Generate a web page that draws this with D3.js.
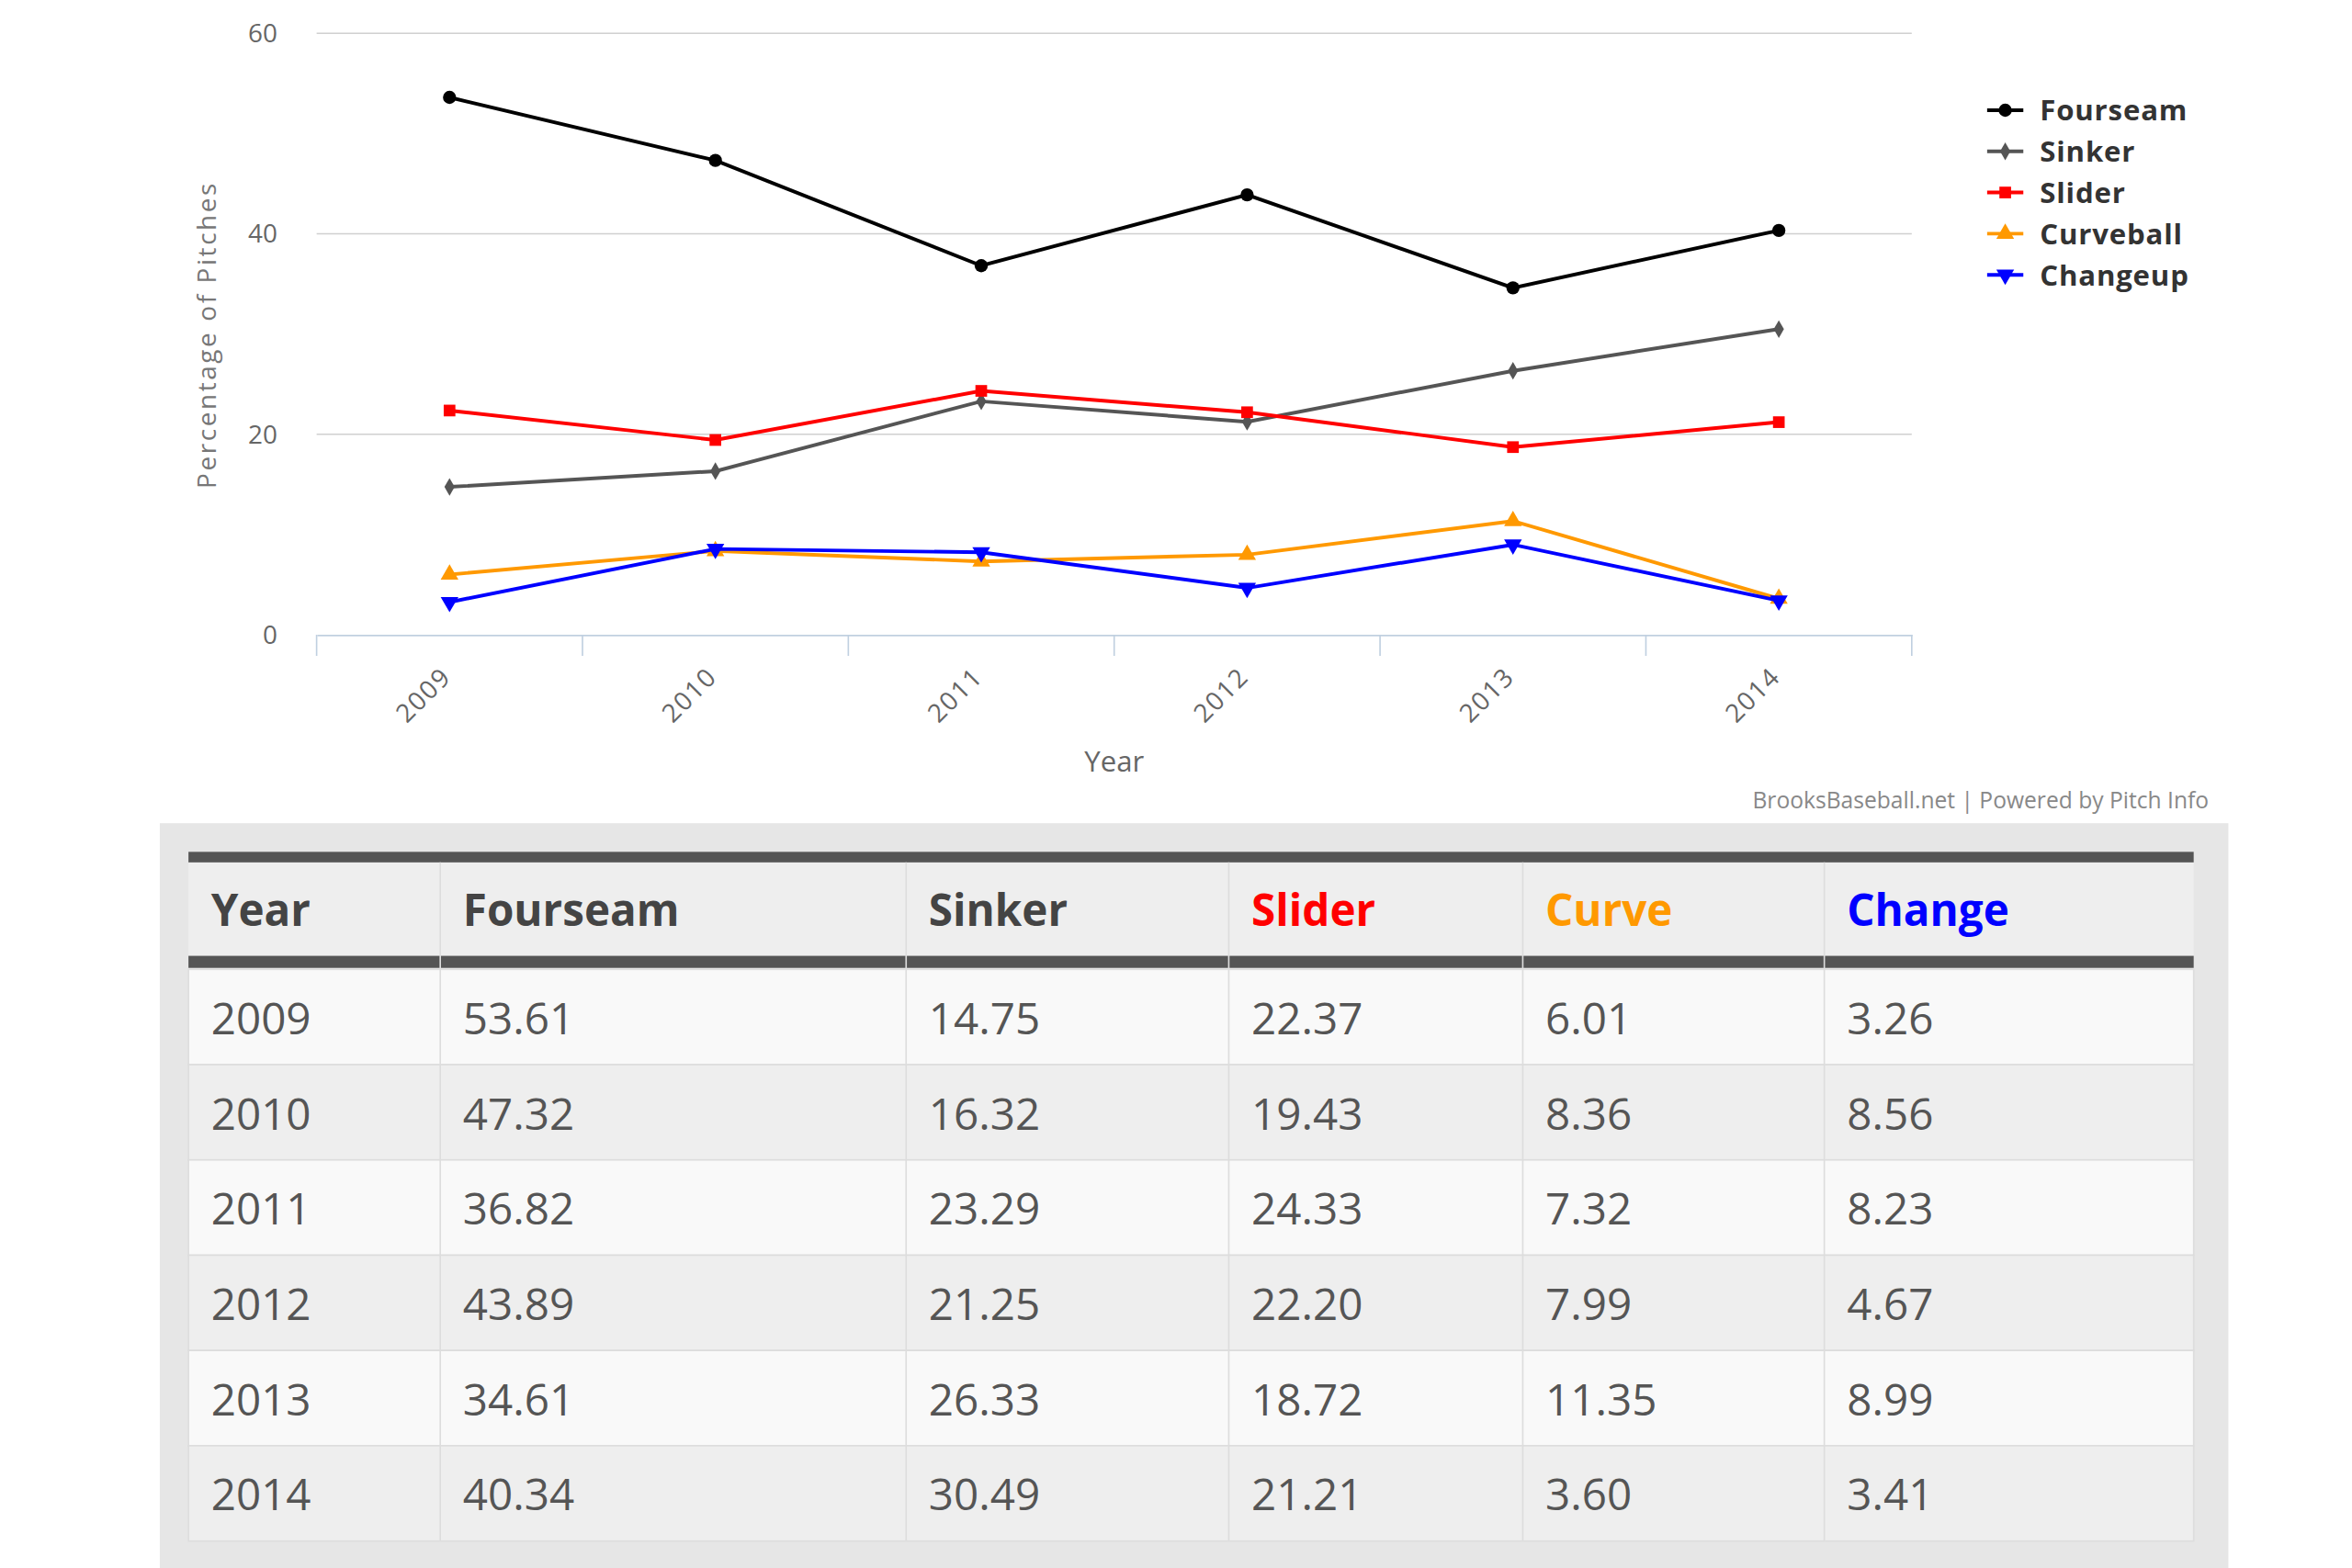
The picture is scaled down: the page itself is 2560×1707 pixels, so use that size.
<!DOCTYPE html>
<html><head><meta charset="utf-8">
<script src="https://cdn.jsdelivr.net/npm/d3@7"></script>
<style>body{margin:0;background:#fff}svg{display:block}</style>
</head><body>
<svg id="chart" width="2560" height="1707" viewBox="0 0 1560 1040"></svg>
<script>
const years = ['2009', '2010', '2011', '2012', '2013', '2014'];
const fourseam = [53.61, 47.32, 36.82, 43.89, 34.61, 40.34];
const sinker = [14.75, 16.32, 23.29, 21.25, 26.33, 30.49];
const slider = [22.37, 19.43, 24.33, 22.20, 18.72, 21.21];
const curveball = [6.01, 8.36, 7.32, 7.99, 11.35, 3.60];
const changeup = [3.26, 8.56, 8.23, 4.67, 8.99, 3.41];
const yTicks = [0, 20, 40, 60];

const series = [
  {name: 'Fourseam', head: 'Fourseam', values: fourseam, color: '#000', sym: d3.symbolCircle, headColor: '#444'},
  {name: 'Sinker', head: 'Sinker', values: sinker, color: '#555', sym: d3.symbolDiamond, headColor: '#444'},
  {name: 'Slider', head: 'Slider', values: slider, color: '#f00', sym: d3.symbolSquare, headColor: '#f00'},
  {name: 'Curveball', head: 'Curve', values: curveball, color: '#f90', sym: d3.symbolTriangle, headColor: '#f90'},
  {name: 'Changeup', head: 'Change', values: changeup, color: '#00f', sym: d3.symbolTriangle, down: true, headColor: '#00f'}
];

const svg = d3.select('#chart');
const font = "'Open Sans', sans-serif";

let x = d3.scaleBand().domain(years).range([210, 1268]);
let y = d3.scaleLinear().domain([0, 60]).range([421, 22]);
const symSize = s => s.sym === d3.symbolDiamond ? 40 : 60;

// grid
svg.append('g').selectAll('line').data(yTicks.slice(1)).enter().append('line')
  .attr('x1', 210).attr('x2', 1268).attr('y1', d => y(d)).attr('y2', d => y(d))
  .attr('stroke', '#d0d0d0').attr('stroke-width', 1);

svg.append('g').selectAll('text').data(yTicks).enter().append('text')
  .attr('x', 184).attr('y', d => y(d) + 6).attr('text-anchor', 'end')
  .style('font-family', font).style('font-size', '17px').style('fill', '#666')
  .text(d => d);

// x axis
let xAxis = d3.axisBottom(x).tickSize(0).tickFormat('');
let xg = svg.append('g').attr('transform', 'translate(0,421)').call(xAxis);
xg.select('.domain').attr('stroke', '#c0d0e0');
let edges = years.map(d => x(d)).concat([1268]);
xg.selectAll('.edge').data(edges).enter().append('line')
  .attr('x1', d => d).attr('x2', d => d).attr('y1', 0).attr('y2', 14)
  .attr('stroke', '#c0d0e0');
svg.append('g').selectAll('text').data(years).enter().append('text')
  .attr('transform', d => `translate(${x(d) + x.bandwidth() / 2 + 2},450) rotate(-45)`)
  .attr('text-anchor', 'end')
  .style('font-family', font).style('font-size', '17px').style('fill', '#666')
  .style('letter-spacing', '1px')
  .text(d => d);

svg.append('text').attr('x', 739).attr('y', 512).attr('text-anchor', 'middle')
  .style('font-family', font).style('font-size', '19px').style('fill', '#666').text('Year');
svg.append('text').attr('transform', 'translate(143,222) rotate(-90)').attr('text-anchor', 'middle')
  .style('font-family', font).style('font-size', '17px').style('fill', '#777')
  .style('letter-spacing', '1.6px').text('Percentage of Pitches');

// lines
let line = d3.line().x((d, i) => x(years[i]) + x.bandwidth() / 2).y(d => y(d));
series.forEach(s => {
  svg.append('path').datum(s.values).attr('d', line)
    .attr('fill', 'none').attr('stroke', s.color).attr('stroke-width', 2.4);
  svg.append('g').selectAll('path').data(s.values).enter().append('path')
    .attr('d', d3.symbol().type(s.sym).size(symSize(s)))
    .attr('transform', (d, i) => `translate(${x(years[i]) + x.bandwidth() / 2},${y(d)})${s.down ? ' rotate(180)' : ''}`)
    .attr('fill', s.color);
});

// legend
let legend = svg.append('g').selectAll('g').data(series).enter().append('g')
  .attr('transform', (d, i) => `translate(1318,${73 + i * 27.3})`);
legend.append('line').attr('x1', 0).attr('x2', 24).attr('stroke', d => d.color).attr('stroke-width', 2.4);
legend.append('path').attr('d', d => d3.symbol().type(d.sym).size(symSize(d))())
  .attr('transform', d => `translate(12,0)${d.down ? ' rotate(180)' : ''}`).attr('fill', d => d.color);
legend.append('text').attr('x', 35).attr('y', 7).text(d => d.name)
  .style('font-family', font).style('font-size', '19px').style('font-weight', 'bold').style('fill', '#333')
  .style('letter-spacing', '0.5px');

svg.append('text').attr('x', 1465).attr('y', 536).attr('text-anchor', 'end')
  .style('font-family', font).style('font-size', '15px').style('fill', '#888')
  .text('BrooksBaseball.net | Powered by Pitch Info');

// table
svg.append('rect').attr('x', 106).attr('y', 546).attr('width', 1372).attr('height', 496).attr('fill', '#e6e6e6');
const colEdges = [125, 292, 601, 815, 1010, 1210, 1455];
let tx = d3.scaleOrdinal().domain(d3.range(6)).range(colEdges.slice(0, 6));
const rowTop = 643, rowH = 63.2;
let ty = d3.scaleLinear().domain([0, 1]).range([rowTop, rowTop + rowH]);

svg.append('rect').attr('x', 125).attr('y', 565).attr('width', 1330).attr('height', 78).attr('fill', '#eee');
svg.append('rect').attr('x', 125).attr('y', 565).attr('width', 1330).attr('height', 7).attr('fill', '#555');
svg.append('rect').attr('x', 125).attr('y', 634).attr('width', 1330).attr('height', 8).attr('fill', '#555');

svg.append('g').selectAll('rect').data(years).enter().append('rect')
  .attr('x', 125).attr('width', 1330).attr('y', (d, i) => ty(i)).attr('height', rowH)
  .attr('fill', (d, i) => i % 2 ? '#eee' : '#f9f9f9').attr('stroke', '#ddd');

svg.append('g').selectAll('line').data(colEdges.slice(1, 6)).enter().append('line')
  .attr('x1', d => d).attr('x2', d => d).attr('y1', 572).attr('y2', ty(6))
  .attr('stroke', '#ddd');

const heads = [{head: 'Year', headColor: '#444'}].concat(series);
svg.append('g').selectAll('text').data(heads).enter().append('text')
  .attr('x', (d, i) => tx(i) + 15).attr('y', 614)
  .style('font-family', font).style('font-size', '29px').style('font-weight', 'bold')
  .style('fill', d => d.headColor).text(d => d.head);

years.forEach((yr, r) => {
  let cells = [yr].concat(series.map(s => s.values[r].toFixed(2)));
  svg.append('g').selectAll('text').data(cells).enter().append('text')
    .attr('x', (d, i) => tx(i) + 15).attr('y', ty(r) + 43)
    .style('font-family', font).style('font-size', '29px').style('fill', '#555')
    .text(d => d);
});
</script>
</body></html>
